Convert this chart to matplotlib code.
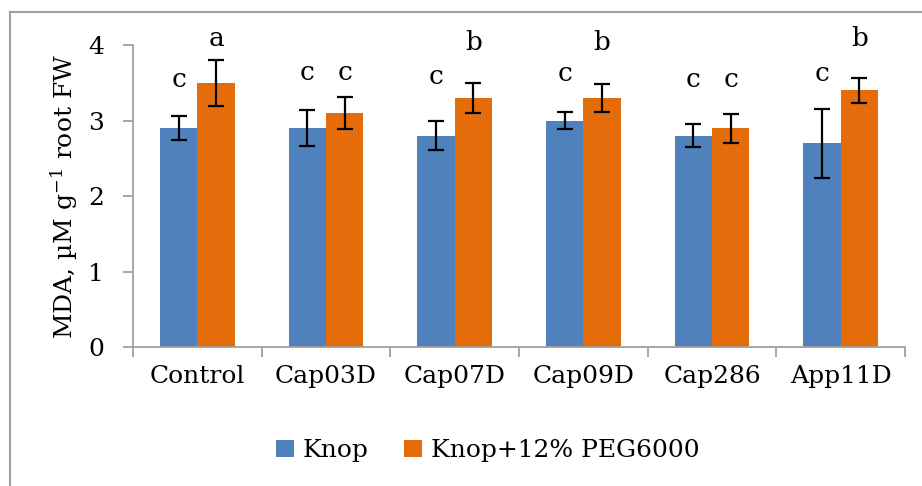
import matplotlib.pyplot as plt
import numpy as np
from matplotlib.lines import Line2D

plt.rcParams['font.family'] = ['DejaVu Serif']
plt.rcParams['mathtext.fontset'] = 'dejavuserif'

# data
categories = ['Control', 'Cap03D', 'Cap07D', 'Cap09D', 'Cap286', 'App11D']
knop = [2.9, 2.9, 2.8, 3.0, 2.8, 2.7]
knop_err = [0.16, 0.24, 0.19, 0.11, 0.15, 0.46]
peg = [3.5, 3.1, 3.3, 3.3, 2.9, 3.4]
peg_err = [0.31, 0.21, 0.20, 0.18, 0.19, 0.16]
knop_letters = ['c', 'c', 'c', 'c', 'c', 'c']
knop_letter_y = [3.54, 3.64, 3.58, 3.63, 3.54, 3.63]
peg_letters = ['a', 'c', 'b', 'b', 'c', 'b']
peg_letter_y = [4.09, 3.64, 4.04, 4.04, 3.54, 4.09]

blue = '#4f81bd'
orange = '#e46c0a'
grey = '#a0a0a0'
fs = 18

fig = plt.figure(figsize=(9.22, 4.86), dpi=100)
ax = fig.add_axes([0.1443, 0.286, 0.8373, 0.621])

x = np.arange(len(categories)) + 0.5
w = 0.29
err_kw = dict(ecolor='black', elinewidth=1.6, capsize=5.5, capthick=1.6)
ax.bar(x - w / 2, knop, w, color=blue, yerr=knop_err, error_kw=err_kw, label='Knop')
ax.bar(x + w / 2, peg, w, color=orange, yerr=peg_err, error_kw=err_kw, label='Knop+12% PEG6000')

for i in range(len(categories)):
    ax.text(x[i] - w / 2, knop_letter_y[i], knop_letters[i], ha='center', va='center', fontsize=fs + 1)
    ax.text(x[i] + w / 2, peg_letter_y[i], peg_letters[i], ha='center', va='center', fontsize=fs + 1)

ax.set_xlim(0, len(categories))
ax.set_ylim(0, 4)
ax.set_yticks([0, 1, 2, 3, 4])
ax.set_xticks(np.arange(len(categories) + 1))
ax.set_xticklabels([])
ax.set_xticks(x, minor=True)
ax.set_xticklabels(categories, minor=True, fontsize=fs)
ax.tick_params(axis='x', which='minor', length=0, pad=13)
ax.tick_params(axis='x', which='major', length=7, width=1.3, color=grey, direction='out')
ax.tick_params(axis='y', length=7, width=1.3, color=grey, labelsize=fs, pad=14)

for s in ['top', 'right']:
    ax.spines[s].set_visible(False)
for s in ['left', 'bottom']:
    ax.spines[s].set_color(grey)
    ax.spines[s].set_linewidth(1.3)

ax.set_ylabel(r'MDA, µM g$^{-1}$ root FW', fontsize=fs, labelpad=6)

fig.legend(loc='center', bbox_to_anchor=(0.529, 0.073), ncol=2, frameon=False,
           fontsize=fs, handlelength=0.7, handleheight=0.7, handletextpad=0.35,
           columnspacing=1.45)

# outer frame (left and top edges visible)
fig.add_artist(Line2D([0.0105, 0.0105], [0.0, 0.975], transform=fig.transFigure, color=grey, lw=1.5))
fig.add_artist(Line2D([0.0105, 1.0], [0.975, 0.975], transform=fig.transFigure, color=grey, lw=1.5))

fig.savefig('out.png', dpi=100)
